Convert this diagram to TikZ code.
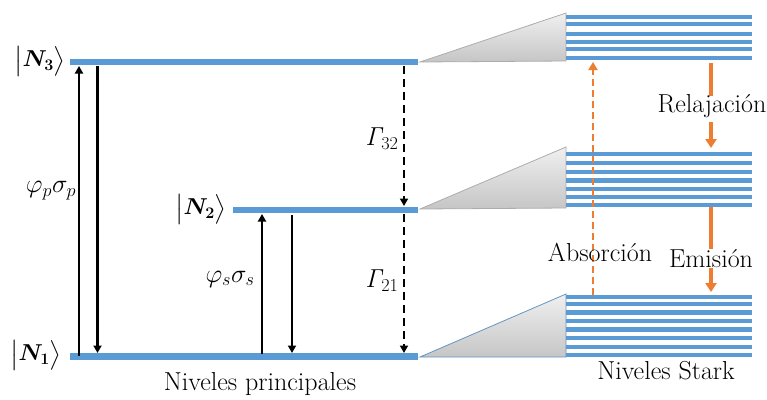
\RequirePackage{fix-cm}
\documentclass[tikz,border=0pt]{standalone}
\usepackage{amsmath,bm}
\usetikzlibrary{arrows.meta}
\definecolor{lvl}{HTML}{5B9BD5}
\definecolor{org}{HTML}{ED7D31}
\begin{document}
\begin{tikzpicture}[x=1pt,y=-1pt,
  level/.style={lvl, line width=6.5pt},
  stark/.style={lvl, line width=4.3pt},
  bk/.style={line width=2.8pt, -{Triangle[length=7.5pt,width=8pt]}},
  bkd/.style={bk, dash pattern=on 8pt off 5pt},
  orline/.style={org, line width=3.2pt},
  orarrow/.style={orline, -{Triangle[length=9pt,width=11pt]}},
  ordash/.style={org, line width=2.6pt, dash pattern=on 7pt off 4pt, -{Triangle[length=8pt,width=9pt]}},
  lbl/.style={font=\fontsize{26}{30}\selectfont, inner sep=0pt},
  klbl/.style={font=\fontsize{23}{27}\selectfont, inner sep=0pt},
  wedge/.style={draw=gray!65, top color=gray!12, bottom color=gray!45, line width=0.8pt}]
\useasboundingbox (0,0) rectangle (767,399);

% principal levels
\draw[level] (70,62) -- (418,62);
\draw[level] (233,210) -- (418,210);
\draw[level] (70,356.5) -- (418,356.5);

% level labels
\node[klbl] (n3) at (40,61) {$\bigl|\bm{N_3}\bigr\rangle$};
\node[klbl] (n2) at (201,209) {$\bigl|\bm{N_2}\bigr\rangle$};
\node[klbl] (n1) at (36,355) {$\bigl|\bm{N_1}\bigr\rangle$};

% wedges
\draw[wedge] (420,62) -- (566,13) -- (566,61) -- cycle;
\draw[wedge] (420,209) -- (566,147) -- (566,208) -- cycle;
\draw[wedge, draw=lvl!80!gray] (420,357) -- (566,294) -- (566,357) -- cycle;

% Stark levels
\foreach \y in {17.3,24.3,34.3,41.7,49,57.7}
  \draw[stark] (566,\y) -- (752,\y);
\foreach \y in {154.3,163.3,171.7,180.5,188.7,196.7,204.7}
  \draw[stark] (566,\y) -- (752,\y);
\foreach \y in {296.7,304.3,312.5,321,329.5,338.3,346.7,355}
  \draw[stark] (566,\y) -- (752,\y);

% pump arrows
\coordinate (p1a) at (79,356);   \coordinate (p1b) at (79,66);
\coordinate (p2a) at (97.5,66);  \coordinate (p2b) at (97.5,353);
\draw[bk] (p1a) -- (p1b);
\draw[bk] (p2a) -- (p2b);
\node[lbl] (php) at (51,191) {$\varphi_p\sigma_p$};

\coordinate (s1a) at (262,354);  \coordinate (s1b) at (262,214);
\coordinate (s2a) at (292,215);  \coordinate (s2b) at (292,353);
\draw[bk] (s1a) -- (s1b);
\draw[bk] (s2a) -- (s2b);
\node[lbl] (phs) at (230,279) {$\varphi_s\sigma_s$};

\coordinate (g1a) at (404,66);   \coordinate (g1b) at (404,206);
\coordinate (g2a) at (404,214);  \coordinate (g2b) at (404,353);
\draw[bkd] (g1a) -- (g1b);
\draw[bkd] (g2a) -- (g2b);
\node[lbl] (g32) at (382,139) {$\mathit{\Gamma}_{32}$};
\node[lbl] (g21) at (382,281) {$\mathit{\Gamma}_{21}$};

\node[lbl] (np) at (260,384) {Niveles principales};
\node[lbl] (ns) at (666,371) {Niveles Stark};

% Stark transitions
\coordinate (abs0) at (593,295); \coordinate (abs1) at (593,62);
\draw[ordash] (abs0) -- (abs1);
\node[lbl] (absl) at (600,252) {Absorción};

\coordinate (r0) at (711,63);  \coordinate (r1) at (711,96);
\coordinate (r2) at (711,122); \coordinate (r3) at (711,148);
\draw[orline] (r0) -- (r1);
\draw[orarrow] (r2) -- (r3);
\node[lbl] (rel) at (712,106) {Relajación};

\coordinate (e0) at (711,207); \coordinate (e1) at (711,249);
\coordinate (e2) at (711,268); \coordinate (e3) at (711,292);
\draw[orline] (e0) -- (e1);
\draw[orarrow] (e2) -- (e3);
\node[lbl] (emi) at (711,259) {Emisión};
\end{tikzpicture}
\end{document}
